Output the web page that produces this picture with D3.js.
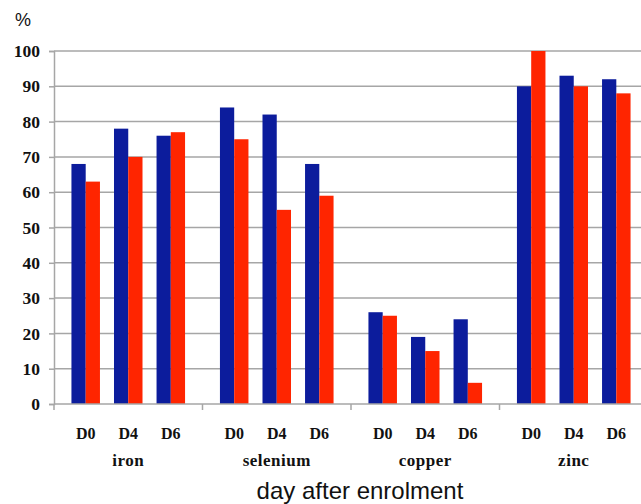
<!DOCTYPE html>
<html>
<head>
<meta charset="utf-8">
<script src="https://cdn.jsdelivr.net/npm/d3@7"></script>
<style>
  body { margin: 0; background: #fff; }
  svg { display: block; }
  .serif { font-family: "Liberation Serif", "Times New Roman", serif; font-weight: bold; fill: #111; }
  .sans { font-family: "Liberation Sans", Arial, sans-serif; fill: #111; }
</style>
</head>
<body>
<div id="vis"></div>
<script>
// chart data
var minerals = ["iron", "selenium", "copper", "zinc"];
var days = ["D0", "D4", "D6"];
var seriesNames = ["blue", "red"];
var blueValues = [[68, 78, 76], [84, 82, 68], [26, 19, 24], [90, 93, 92]];
var redValues = [[63, 70, 77], [75, 55, 59], [25, 15, 6], [100, 90, 88]];
var yTicks = [0, 10, 20, 30, 40, 50, 60, 70, 80, 90, 100];

var width = 641;
var height = 504;
var margin = {top: 51, left: 54, bottom: 100, right: -7};

var colors = {blue: "#0c1c9c", red: "#ff2500"};

var svg = d3.select("#vis").append("svg")
  .attr("width", width)
  .attr("height", height);

var plotW = width - margin.left - margin.right;
var plotH = height - margin.top - margin.bottom;

var g = svg.append("g")
  .attr("transform", "translate(" + margin.left + "," + margin.top + ")");

// scales
var x0 = d3.scaleBand().domain(minerals).range([0, plotW]);
var x1 = d3.scaleBand().domain(days).range([0, x0.bandwidth()])
  .paddingInner(0.33).paddingOuter(0.41);
var x2 = d3.scaleBand().domain(seriesNames).range([0, x1.bandwidth()]);
var y = d3.scaleLinear().domain([0, 100]).range([plotH, 0]);

// gridlines
g.selectAll(".grid").data(yTicks.filter(function(d) { return d > 0; }))
  .enter().append("line")
  .attr("class", "grid")
  .attr("x1", 0).attr("x2", plotW)
  .attr("y1", function(d) { return y(d); })
  .attr("y2", function(d) { return y(d); })
  .attr("stroke", "#a6a6a6")
  .attr("stroke-width", 1.5);

// y axis
var yAxis = g.append("g")
  .call(d3.axisLeft(y).tickValues(yTicks).tickSize(5).tickPadding(9));
yAxis.select(".domain").attr("stroke", "#a6a6a6").attr("stroke-width", 1.5);
yAxis.selectAll(".tick line").attr("stroke", "#a6a6a6").attr("stroke-width", 1.5);
yAxis.attr("font-family", null).attr("font-size", null);
yAxis.selectAll(".tick text")
  .attr("class", "serif")
  .style("font-family", "'Liberation Serif', 'Times New Roman', serif")
  .style("font-weight", "bold")
  .style("font-size", "17.5px");

// bars
var groups = g.selectAll(".mineral").data(minerals)
  .enter().append("g")
  .attr("class", "mineral")
  .attr("transform", function(d) { return "translate(" + x0(d) + ",0)"; });

groups.each(function(m, mi) {
  var rows = [];
  days.forEach(function(day, di) {
    rows.push({day: day, s: "blue", v: blueValues[mi][di]});
    rows.push({day: day, s: "red", v: redValues[mi][di]});
  });
  d3.select(this).selectAll("rect").data(rows)
    .enter().append("rect")
    .attr("x", function(d) { return x1(d.day) + x2(d.s); })
    .attr("y", function(d) { return y(d.v); })
    .attr("width", x2.bandwidth())
    .attr("height", function(d) { return plotH - y(d.v); })
    .attr("fill", function(d) { return colors[d.s]; });

  // day labels
  d3.select(this).selectAll(".day").data(days)
    .enter().append("text")
    .attr("class", "day serif")
    .attr("x", function(d) { return x1(d) + x1.bandwidth() / 2; })
    .attr("y", plotH + 35)
    .attr("text-anchor", "middle")
    .style("font-size", "16px")
    .text(function(d) { return d; });

  d3.select(this).append("text")
    .attr("class", "serif")
    .attr("x", x0.bandwidth() / 2)
    .attr("y", plotH + 62)
    .attr("text-anchor", "middle")
    .style("font-size", "17px")
    .style("letter-spacing", "0.5px")
    .text(m);
});

// x axis line and category ticks
g.append("line")
  .attr("x1", 0).attr("x2", plotW)
  .attr("y1", plotH).attr("y2", plotH)
  .attr("stroke", "#a6a6a6").attr("stroke-width", 1.5);
g.selectAll(".xtick").data(minerals)
  .enter().append("line")
  .attr("x1", function(d) { return x0(d); })
  .attr("x2", function(d) { return x0(d); })
  .attr("y1", plotH).attr("y2", plotH + 6)
  .attr("stroke", "#a6a6a6").attr("stroke-width", 1.5);

// titles
svg.append("text")
  .attr("class", "sans")
  .attr("x", 15).attr("y", 26)
  .style("font-size", "18px")
  .text("%");

svg.append("text")
  .attr("class", "sans")
  .attr("x", 360).attr("y", 499)
  .attr("text-anchor", "middle")
  .style("font-size", "24px")
  .text("day after enrolment");
</script>
</body>
</html>
